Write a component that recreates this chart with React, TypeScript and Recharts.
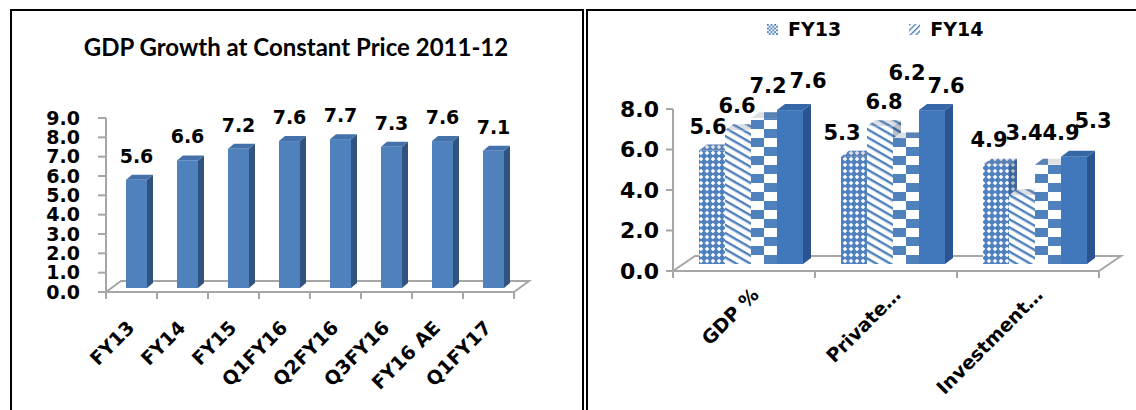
import { Bar, BarChart, LabelList, Legend, XAxis, YAxis } from 'recharts';

const FONT = "'DejaVu Sans', Verdana, sans-serif";
const BLUE = '#4F81BD';
const GREY = '#A6A6A6';

// left panel: GDP growth at constant price
const growthPeriods = ['FY13', 'FY14', 'FY15', 'Q1FY16', 'Q2FY16', 'Q3FY16', 'FY16 AE', 'Q1FY17'];
const growthValues = [5.6, 6.6, 7.2, 7.6, 7.7, 7.3, 7.6, 7.1];
const growthTicks = [0, 1, 2, 3, 4, 5, 6, 7, 8, 9];

// right panel: growth by component
const sectorNames = ['GDP %', 'Private…', 'Investment…'];
const sectorSeries = ['FY13', 'FY14', 'FY15', 'FY16 AE'];
const fy13Values = [5.6, 5.3, 4.9];
const fy14Values = [6.6, 6.8, 3.4];
const fy15Values = [7.2, 6.2, 4.9];
const fy16Values = [7.6, 7.6, 5.3];
const sectorTicks = [0, 2, 4, 6, 8];
const legendSeries = ['FY13', 'FY14'];

const growthData = growthPeriods.map((period, i) => ({ period, value: growthValues[i] }));
const sectorValues = [fy13Values, fy14Values, fy15Values, fy16Values];
const sectorData = sectorNames.map((sector, i) => {
  const row: Record<string, string | number> = { sector };
  sectorSeries.forEach((s, k) => (row[s] = sectorValues[k][i]));
  return row;
});

// excel moved some labels around to avoid overlaps
const labelNudge: Record<string, [number, number][]> = {
  FY13: [[-4, 0], [-12, 0], [-7, -1]],
  FY14: [[-1, 0], [4, 0], [2, -38]],
  FY15: [[4, -8], [1, -41], [13, -8]],
  'FY16 AE': [[18, -5], [14, 0], [19, -12]],
};

// layout (px inside each chart)
const L = { width: 580, height: 410, left: 106, right: 514, top: 118, bottom: 292 };
const R = { width: 546, height: 410, left: 83, right: 509, top: 109, bottom: 271 };

type Face = { fill: string; shade?: string };
type Look = {
  front: Face;
  top: Face;
  flank: Face;
  dx: number;
  dy: number;
  side: number;
  rise: number;
  checker?: boolean;
};

const Prism = (props: any) => {
  const { x, y, width, height, index, look } = props as { look: Look } & Record<string, number>;
  if (width == null || height == null) return null;
  const l = x + look.dx;
  const t = y + look.dy;
  const r = l + width;
  const b = t + height;
  const flank = `${r},${t} ${r + look.side},${t - look.rise} ${r + look.side},${b - look.rise} ${r},${b}`;
  const lid = `${l},${t} ${l + look.side},${t - look.rise} ${r + look.side},${t - look.rise} ${r},${t}`;
  const pid = `chk-${index}`;
  const pat = look.checker ? `url(#${pid})` : null;
  return (
    <g>
      {look.checker && (
        <pattern id={pid} x={l} y={b} width={26} height={18} patternUnits='userSpaceOnUse'>
          <rect width={26} height={18} fill='#fff' />
          <rect width={13} height={9} fill={BLUE} />
          <rect x={13} y={9} width={13} height={9} fill={BLUE} />
        </pattern>
      )}
      <polygon points={flank} fill={pat ?? look.flank.fill} />
      {look.flank.shade && <polygon points={flank} fill={look.flank.shade} />}
      <polygon points={lid} fill={pat ?? look.top.fill} />
      {look.top.shade && <polygon points={lid} fill={look.top.shade} />}
      <rect x={l} y={t} width={width} height={height} fill={pat ?? look.front.fill} />
    </g>
  );
};

const growthLook: Look = {
  front: { fill: BLUE },
  top: { fill: '#4571AA' },
  flank: { fill: '#30537F' },
  dx: 5,
  dy: -4,
  side: 6,
  rise: 5,
};

const sectorLooks: Look[] = [
  { front: { fill: 'url(#dots13)' }, top: { fill: 'url(#dots13)', shade: 'rgba(120,130,150,0.25)' }, flank: { fill: 'url(#dots13)', shade: 'rgba(20,40,80,0.3)' }, dx: 7, dy: -7, side: 8, rise: 6 },
  { front: { fill: 'url(#stripe14)' }, top: { fill: 'url(#stripe14)', shade: 'rgba(120,130,150,0.25)' }, flank: { fill: 'url(#stripe14)', shade: 'rgba(20,40,80,0.3)' }, dx: 7, dy: -7, side: 8, rise: 6 },
  { front: { fill: BLUE }, top: { fill: BLUE, shade: 'rgba(120,130,150,0.25)' }, flank: { fill: BLUE, shade: 'rgba(20,40,80,0.3)' }, dx: 7, dy: -7, side: 8, rise: 6, checker: true },
  { front: { fill: '#4178BC' }, top: { fill: '#3567A7' }, flank: { fill: '#2B5590' }, dx: 7, dy: -7, side: 8, rise: 6 },
];

const numberStyle = { fontFamily: FONT, fontWeight: 700, fill: '#000' };

const ValueLabel = (props: any) => {
  const { x, y, width, value, index, look, size, nudge } = props;
  const [nx, ny] = nudge ? nudge[index] : [0, 0];
  const cx = x + width / 2 + look.dx + nx;
  const by = y + look.dy - 17 + ny;
  return (
    <text x={cx} y={by} textAnchor='middle' fontSize={size} {...numberStyle}>
      {Number(value).toFixed(1)}
    </text>
  );
};

const CategoryTick = (props: any) => {
  const { x, y, payload, index, band, count, ax, ay, size } = props;
  const tx = x + ax;
  const ty = y + ay;
  return (
    <g>
      <line x1={x - band / 2} x2={x - band / 2} y1={y} y2={y + 7} stroke={GREY} strokeWidth={2} />
      {index === count - 1 && (
        <line x1={x + band / 2} x2={x + band / 2} y1={y} y2={y + 7} stroke={GREY} strokeWidth={2} />
      )}
      <text x={tx} y={ty} textAnchor='end' transform={`rotate(-45 ${tx} ${ty})`} fontSize={size} {...numberStyle}>
        {payload.value}
      </text>
    </g>
  );
};

const Floor = ({ left, right, y, dx, dy }: { left: number; right: number; y: number; dx: number; dy: number }) => (
  <polyline
    points={`${left},${y} ${left + dx},${y - dy} ${right + dx},${y - dy} ${right},${y}`}
    fill='none'
    stroke={GREY}
    strokeWidth={2}
  />
);

const PatternDefs = () => (
  <svg width={0} height={0} style={{ position: 'absolute' }}>
    <defs>
      <pattern id='dots13' width={6} height={6} patternUnits='userSpaceOnUse'>
        <rect width={6} height={6} fill={BLUE} />
        <polygon points='3,0.7 5.3,3 3,5.3 0.7,3' fill='#fff' />
      </pattern>
      <pattern id='stripe14' width={7} height={7} patternUnits='userSpaceOnUse' patternTransform='rotate(30)'>
        <rect width={7} height={7} fill='#fff' />
        <rect width={7} height={2.4} fill={BLUE} />
      </pattern>
      <pattern id='legend13' width={3.6} height={3.6} patternUnits='userSpaceOnUse'>
        <rect width={3.6} height={3.6} fill='#fff' />
        <rect width={1.8} height={1.8} fill={BLUE} />
        <rect x={1.8} y={1.8} width={1.8} height={1.8} fill={BLUE} />
      </pattern>
      <pattern id='legend14' width={4} height={4} patternUnits='userSpaceOnUse' patternTransform='rotate(45)'>
        <rect width={4} height={4} fill='#fff' />
        <rect width={1.4} height={4} fill={BLUE} />
      </pattern>
    </defs>
  </svg>
);

const legendFill: Record<string, string> = { FY13: 'url(#legend13)', FY14: 'url(#legend14)' };

const SectorLegend = () => (
  <div style={{ display: 'flex', alignItems: 'center', gap: 68, fontFamily: FONT, fontWeight: 700, fontSize: 19, lineHeight: '20px' }}>
    {legendSeries.map((name) => (
      <div key={name} style={{ display: 'flex', alignItems: 'center', gap: 10 }}>
        <svg width={11} height={11}>
          <rect width={11} height={11} fill={legendFill[name]} />
        </svg>
        <span>{name}</span>
      </div>
    ))}
  </div>
);

const GrowthChart = () => (
  <BarChart
    width={L.width}
    height={L.height}
    data={growthData}
    margin={{ top: L.top, right: L.width - L.right, bottom: 0, left: 0 }}
    barSize={21}
  >
    <Floor left={L.left} right={L.right} y={L.bottom} dx={15} dy={11} />
    <text x={296} y={56} textAnchor='middle' fontFamily='Lato, sans-serif' fontWeight={700} fontSize={24} fill='#000'>
      GDP Growth at Constant Price 2011-12
    </text>
    <XAxis
      dataKey='period'
      height={L.height - L.bottom}
      interval={0}
      tickSize={0}
      tickMargin={0}
      axisLine={{ stroke: GREY, strokeWidth: 2 }}
      tickLine={false}
      tick={<CategoryTick band={(L.right - L.left) / growthPeriods.length} count={growthPeriods.length} ax={4} ay={37} size={19} />}
    />
    <YAxis
      width={L.left}
      domain={[0, 9]}
      ticks={growthTicks}
      interval={0}
      tickSize={8}
      tickMargin={18}
      axisLine={{ stroke: GREY, strokeWidth: 2 }}
      tickLine={{ stroke: GREY, strokeWidth: 2 }}
      tick={{ fontSize: 19, ...numberStyle }}
      tickFormatter={(v: number) => v.toFixed(1)}
    />
    <Bar dataKey='value' isAnimationActive={false} shape={(p: any) => <Prism {...p} look={growthLook} />}>
      <LabelList dataKey='value' content={(p: any) => <ValueLabel {...p} look={growthLook} size={19} />} />
    </Bar>
  </BarChart>
);

const SectorChart = () => (
  <BarChart
    width={R.width}
    height={R.height}
    data={sectorData}
    margin={{ top: R.top, right: R.width - R.right, bottom: 0, left: 0 }}
    barSize={26}
    barGap={0}
  >
    <Floor left={R.left} right={R.right} y={R.bottom} dx={22} dy={15} />
    <XAxis
      dataKey='sector'
      height={R.height - R.bottom}
      interval={0}
      tickSize={0}
      tickMargin={0}
      axisLine={{ stroke: GREY, strokeWidth: 2 }}
      tickLine={false}
      tick={<CategoryTick band={(R.right - R.left) / sectorNames.length} count={sectorNames.length} ax={16} ay={25} size={19} />}
    />
    <YAxis
      width={R.left}
      domain={[0, 8]}
      ticks={sectorTicks}
      interval={0}
      tickSize={7}
      tickMargin={7}
      axisLine={{ stroke: GREY, strokeWidth: 2 }}
      tickLine={{ stroke: GREY, strokeWidth: 2 }}
      tick={{ fontSize: 22, ...numberStyle }}
      tickFormatter={(v: number) => v.toFixed(1)}
    />
    <Legend
      layout='vertical'
      align='center'
      verticalAlign='middle'
      wrapperStyle={{ top: 19, left: 177, width: 300 }}
      content={() => <SectorLegend />}
    />
    {sectorSeries.map((name, k) => (
      <Bar
        key={name}
        dataKey={name}
        isAnimationActive={false}
        shape={(p: any) => <Prism {...p} look={sectorLooks[k]} />}
      >
        <LabelList
          dataKey={name}
          content={(p: any) => <ValueLabel {...p} look={sectorLooks[k]} size={21} nudge={labelNudge[name]} />}
        />
      </Bar>
    ))}
  </BarChart>
);

export default function App() {
  return (
    <div style={{ position: 'relative', width: 1136, height: 410, overflow: 'hidden', background: '#fff' }}>
      <style>{'body{margin:0}'}</style>
      <PatternDefs />
      <div
        style={{
          position: 'absolute',
          left: 10,
          top: 9,
          width: 574,
          height: 420,
          border: '2px solid #000',
          borderBottom: 'none',
          boxSizing: 'border-box',
        }}
      />
      <div
        style={{
          position: 'absolute',
          left: 586,
          top: 9,
          width: 600,
          height: 420,
          border: '2px solid #000',
          borderBottom: 'none',
          boxSizing: 'border-box',
        }}
      />
      <div style={{ position: 'absolute', left: 0, top: 0 }}>
        <GrowthChart />
      </div>
      <div style={{ position: 'absolute', left: 590, top: 0 }}>
        <SectorChart />
      </div>
    </div>
  );
}
